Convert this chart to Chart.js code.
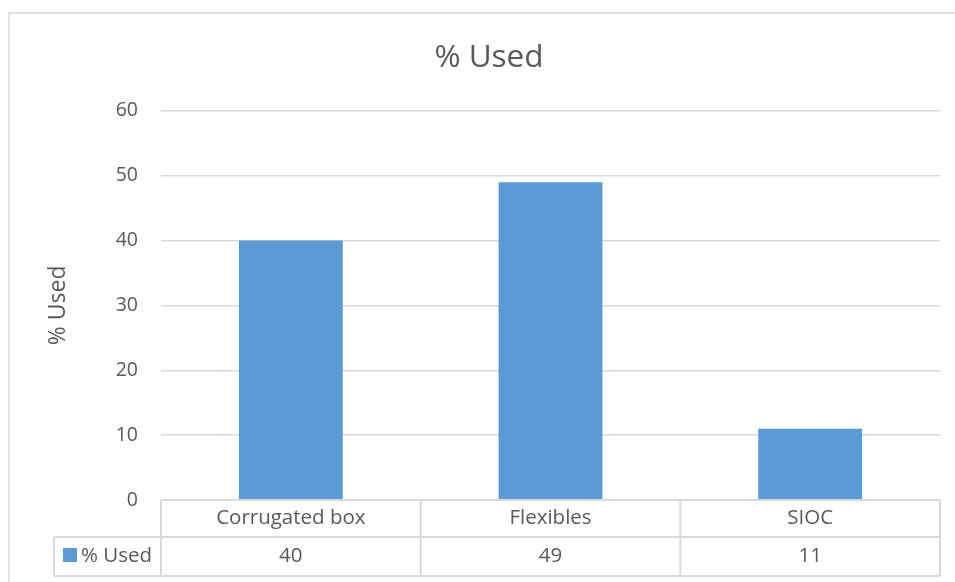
<!DOCTYPE html>
<html>
<head>
<meta charset="utf-8">
<script src="https://cdn.jsdelivr.net/npm/chart.js@4/dist/chart.umd.min.js"></script>
<style>
  html, body { margin: 0; padding: 0; background: #ffffff; }
  #wrap { position: relative; width: 955px; height: 582px; }
</style>
</head>
<body>
<div id="wrap"><canvas id="c" width="955" height="582"></canvas></div>
<script>
const categories = ['Corrugated box', 'Flexibles', 'SIOC'];
const seriesName = '% Used';
const usedValues = [40, 49, 11];
const yTicks = [0, 10, 20, 30, 40, 50, 60];

const FONT = "'Open Sans', sans-serif";
const TEXT = '#595959';
const GRID = '#d9d9d9';
const BAR = '#5b9bd5';

const tablePlugin = {
  id: 'dataTable',
  beforeDraw(chart) {
    const ctx = chart.ctx;
    ctx.save();
    ctx.fillStyle = '#ffffff';
    ctx.fillRect(0, 0, chart.width, chart.height);
    ctx.strokeStyle = GRID;
    ctx.lineWidth = 1.5;
    ctx.strokeRect(9, 13, 2000, 2000);
    ctx.restore();
  },
  afterDraw(chart) {
    const ctx = chart.ctx;
    const area = chart.chartArea;
    const x = chart.scales.x;
    const n = categories.length;
    const colW = (area.right - area.left) / n;
    const y0 = area.bottom, y1 = y0 + 37, y2 = y1 + 39;
    const legL = 54;
    ctx.save();
    ctx.strokeStyle = GRID;
    ctx.lineWidth = 2;
    ctx.beginPath();
    ctx.moveTo(area.left, y0); ctx.lineTo(area.right, y0);
    ctx.moveTo(legL, y1); ctx.lineTo(area.right, y1);
    ctx.moveTo(legL, y2); ctx.lineTo(area.right, y2);
    for (let i = 0; i <= n; i++) {
      const xx = area.left + i * colW;
      ctx.moveTo(xx, y0); ctx.lineTo(xx, y2);
    }
    ctx.moveTo(legL, y1); ctx.lineTo(legL, y2);
    ctx.stroke();

    ctx.fillStyle = TEXT;
    ctx.font = "20.5px " + FONT;
    ctx.textAlign = 'center';
    ctx.textBaseline = 'middle';
    for (let i = 0; i < n; i++) {
      const cx = x.getPixelForValue(i);
      ctx.fillText(categories[i], cx, (y0 + y1) / 2);
      ctx.fillText(String(usedValues[i]), cx, (y1 + y2) / 2);
    }
    // legend key
    ctx.fillStyle = BAR;
    ctx.fillRect(63, 548, 14, 14);
    ctx.fillStyle = TEXT;
    ctx.textAlign = 'left';
    ctx.fillText(seriesName, 81, (y1 + y2) / 2);
    ctx.restore();
  }
};

new Chart(document.getElementById('c'), {
  type: 'bar',
  data: {
    labels: categories,
    datasets: [{
      label: seriesName,
      data: usedValues,
      backgroundColor: BAR,
      borderWidth: 0,
      categoryPercentage: 1.0,
      barPercentage: 0.4
    }]
  },
  options: {
    responsive: false,
    animation: false,
    events: [],
    layout: { padding: { left: 38, right: 15, top: 0, bottom: 0 } },
    plugins: {
      legend: { display: false },
      tooltip: { enabled: false },
      title: {
        display: true,
        text: seriesName,
        color: TEXT,
        font: { family: FONT, size: 31.5, weight: 'normal', lineHeight: 1.2 },
        padding: { top: 39, bottom: 34 }
      }
    },
    scales: {
      x: {
        position: 'bottom',
        grid: { display: false },
        border: { display: false },
        ticks: { display: false },
        afterFit(scale) { scale.height = 82; }
      },
      y: {
        min: 0,
        max: 60,
        afterBuildTicks(scale) { scale.ticks = yTicks.map(v => ({ value: v })); },
        afterFit(scale) { scale.width = 123; },
        grid: { color: GRID, lineWidth: 1.5, drawTicks: false },
        border: { display: false },
        ticks: {
          color: TEXT,
          padding: 23,
          font: { family: FONT, size: 19.5 }
        },
        title: {
          display: true,
          text: seriesName,
          color: TEXT,
          font: { family: FONT, size: 23, weight: 'normal', lineHeight: 1.2 },
          padding: { top: 7, bottom: 0 }
        }
      }
    }
  },
  plugins: [tablePlugin]
});
</script>
</body>
</html>
